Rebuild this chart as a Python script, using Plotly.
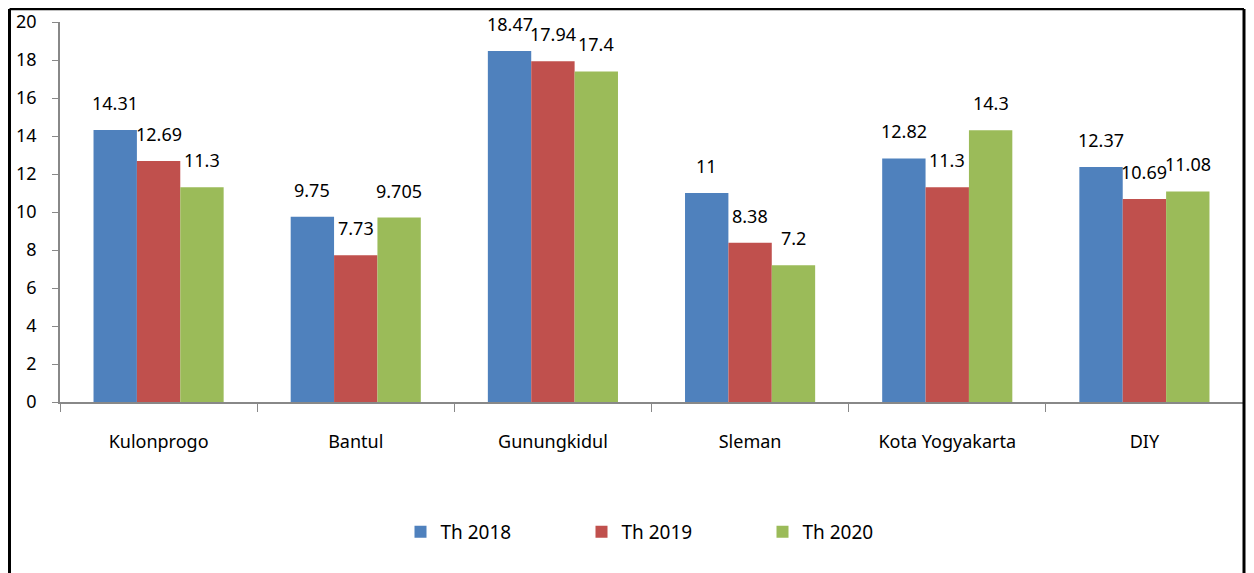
import plotly.graph_objects as go

categories = ["Kulonprogo", "Bantul", "Gunungkidul", "Sleman", "Kota Yogyakarta", "DIY"]
series_names = ["Th 2018", "Th 2019", "Th 2020"]
th2018 = [14.31, 9.75, 18.47, 11, 12.82, 12.37]
th2019 = [12.69, 7.73, 17.94, 8.38, 11.3, 10.69]
th2020 = [11.3, 9.705, 17.4, 7.2, 14.3, 11.08]
colors = ["#4F81BD", "#C0504D", "#9BBB59"]

FONT = "Noto Sans"
OFF = 8  # page body margin
W, H = 1254 - 2 * OFF, 573 - OFF
ml, mt = 60 - OFF, 22 - OFF
mr = W - (1243 - OFF)
mb = H - (402 - OFF)
plot_w = W - ml - mr
plot_h = H - mt - mb
bargap = 0.34
bar_px = plot_w / len(categories) * (1 - bargap) / 3

fig = go.Figure()
all_series = [th2018, th2019, th2020]
for name, vals, col in zip(series_names, all_series, colors):
    fig.add_trace(go.Bar(x=categories, y=vals, name=name, marker=dict(color=col, line=dict(width=0))))

annotations = []
for i, vals in enumerate(all_series):
    for c, v in zip(categories, vals):
        annotations.append(dict(x=c, y=v, xref="x", yref="y", text=str(v), showarrow=False,
                                xshift=(i - 1) * bar_px, yshift=27, yanchor="middle",
                                font=dict(family=FONT, size=18, color="#000000")))

def px_to_paper_x(px):
    return (px - OFF - ml) / plot_w

def px_to_paper_y(py):
    return (H - mb - (py - OFF)) / plot_h

border_left = px_to_paper_x(OFF + 1.5)
border_right = px_to_paper_x(OFF + W - 2)
border_top = px_to_paper_y(OFF + 1)
border_bottom = px_to_paper_y(OFF + H + 10)
line_style = dict(color="#000000", width=3)
shapes = [
    dict(type="line", xref="paper", yref="paper", x0=border_left, x1=border_left, y0=border_bottom, y1=border_top, line=line_style),
    dict(type="line", xref="paper", yref="paper", x0=border_right, x1=border_right, y0=border_bottom, y1=border_top, line=line_style),
    dict(type="line", xref="paper", yref="paper", x0=border_left, x1=border_right, y0=border_top, y1=border_top, line=dict(color="#000000", width=2.5)),
]

fig.update_layout(
    width=W, height=H,
    margin=dict(l=ml, r=mr, t=mt, b=mb, autoexpand=False),
    paper_bgcolor="white", plot_bgcolor="white",
    barmode="group", bargap=bargap, bargroupgap=0,
    font=dict(family=FONT, size=18, color="#000000"),
    showlegend=True,
    legend=dict(orientation="h", x=px_to_paper_x(672), xanchor="center", y=px_to_paper_y(532), yanchor="middle",
                entrywidth=136, entrywidthmode="pixels", font=dict(family=FONT, size=19),
                itemsizing="constant", itemwidth=30, traceorder="normal"),
    annotations=annotations,
    shapes=shapes,
    xaxis=dict(type="category", showline=True, linecolor="#888888", linewidth=1.5,
               ticks="outside", tickson="boundaries", ticklen=8, tickcolor="#888888",
               showgrid=False, ticklabelstandoff=23,
               tickfont=dict(family=FONT, size=18, color="#000000")),
    yaxis=dict(range=[0, 20], dtick=2, showline=True, linecolor="#888888", linewidth=1.5,
               ticks="outside", ticklen=6, tickcolor="#888888", showgrid=False, zeroline=False,
               ticklabelstandoff=12, tickfont=dict(family=FONT, size=18, color="#000000")),
)

fig.write_html("out.html")
